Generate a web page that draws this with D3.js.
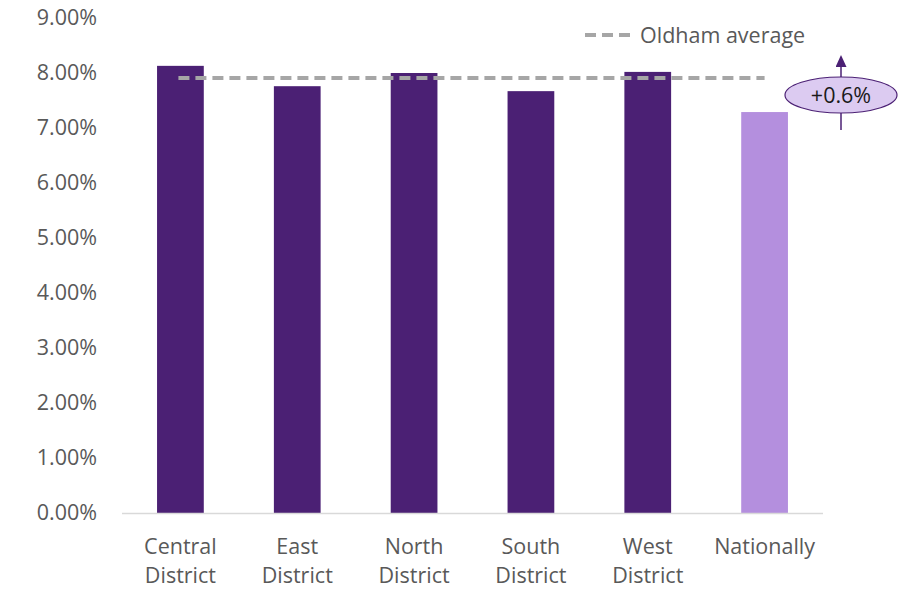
<!DOCTYPE html>
<html>
<head>
<meta charset="utf-8">
<script src="https://cdn.jsdelivr.net/npm/d3@7"></script>
<style>
  body { margin: 0; background: #fff; }
  text { font-family: "Open Sans", "Noto Sans", sans-serif; }
</style>
</head>
<body>
<div id="chart"></div>
<script>
// data
var districts = ["Central District", "East District", "North District", "South District", "West District", "Nationally"];
var rates = [8.13, 7.76, 8.0, 7.67, 8.02, 7.29];
var oldhamAverage = 7.91;
var yTicks = [0, 1, 2, 3, 4, 5, 6, 7, 8, 9];
var diffLabel = "+0.6%";

/* ****** Size ****** */
var width = 918, height = 590;
var margin = { top: 18, right: 95, bottom: 77, left: 122 };
var fontSize = "21.5px";

var svg = d3.select("#chart").append("svg")
    .attr("width", width)
    .attr("height", height);

var x = d3.scaleBand()
    .domain(districts)
    .range([margin.left, width - margin.right])
    .paddingInner(0.6)
    .paddingOuter(0.3);

var y = d3.scaleLinear()
    .domain([0, 9])
    .range([height - margin.bottom, margin.top]);

/* ****** Y axis labels ****** */
svg.append("g")
    .attr("transform", "translate(" + margin.left + ",0)")
    .call(d3.axisLeft(y).tickValues(yTicks).tickSize(0).tickPadding(25)
        .tickFormat(function (d) { return d.toFixed(2) + "%"; }))
    .call(function (g) { g.select(".domain").remove(); })
    .selectAll("text")
    .attr("fill", "#595959")
    .style("font-size", fontSize);

/* ****** Bars ****** */
svg.selectAll("rect.bar")
    .data(districts)
    .enter().append("rect")
    .attr("class", "bar")
    .attr("x", function (d) { return x(d); })
    .attr("width", x.bandwidth())
    .attr("y", function (d, i) { return y(rates[i]); })
    .attr("height", function (d, i) { return y(0) - y(rates[i]); })
    .attr("fill", function (d) { return d == "Nationally" ? "#b48fde" : "#4b2074"; });

/* ****** X axis ****** */
svg.append("line")
    .attr("x1", margin.left).attr("x2", width - margin.right)
    .attr("y1", y(0) + 0.5).attr("y2", y(0) + 0.5)
    .attr("stroke", "#d9d9d9").attr("stroke-width", 1.5);

var labels = svg.selectAll("text.xlab")
    .data(districts)
    .enter().append("text")
    .attr("class", "xlab")
    .attr("text-anchor", "middle")
    .attr("fill", "#595959")
    .style("font-size", fontSize)
    .attr("transform", function (d) { return "translate(" + (x(d) + x.bandwidth() / 2) + "," + (y(0) + 41) + ")"; });

labels.each(function (d) {
    var words = d.split(" ");
    var t = d3.select(this);
    words.forEach(function (w, i) {
        t.append("tspan").attr("x", 0).attr("dy", i == 0 ? 0 : 29).text(w);
    });
});

/* ****** Oldham average line ****** */
svg.append("line")
    .attr("x1", x(districts[0]) + x.bandwidth() / 2 - 2)
    .attr("x2", x("Nationally") + x.bandwidth() / 2)
    .attr("y1", y(oldhamAverage)).attr("y2", y(oldhamAverage))
    .attr("stroke", "#a6a6a6").attr("stroke-width", 4)
    .attr("stroke-dasharray", "11,6");

/* ****** Legend ****** */
svg.append("line")
    .attr("x1", 585).attr("x2", 632)
    .attr("y1", 35).attr("y2", 35)
    .attr("stroke", "#a6a6a6").attr("stroke-width", 4)
    .attr("stroke-dasharray", "11,6");

svg.append("text")
    .attr("x", 640).attr("y", 43)
    .attr("fill", "#595959")
    .style("font-size", fontSize)
    .text("Oldham average");

/* ****** Difference annotation ****** */
var ax = 841;
svg.append("defs").append("marker")
    .attr("id", "arrow")
    .attr("viewBox", "0 0 10 10")
    .attr("refX", 0).attr("refY", 5)
    .attr("markerWidth", 12).attr("markerHeight", 11)
    .attr("markerUnits", "userSpaceOnUse")
    .attr("orient", "auto")
    .attr("preserveAspectRatio", "none")
    .append("path")
    .attr("d", "M0,0 L10,5 L0,10 z")
    .attr("fill", "#4b2074");

svg.append("line")
    .attr("x1", ax).attr("x2", ax)
    .attr("y1", 130).attr("y2", 67)
    .attr("stroke", "#4b2074").attr("stroke-width", 1.5)
    .attr("marker-end", "url(#arrow)");

svg.append("ellipse")
    .attr("cx", ax).attr("cy", 95)
    .attr("rx", 56).attr("ry", 18)
    .attr("fill", "#dccbf1")
    .attr("stroke", "#4b2074").attr("stroke-width", 1.2);

svg.append("text")
    .attr("x", ax).attr("y", 103)
    .attr("text-anchor", "middle")
    .attr("fill", "#1a1a1a")
    .style("font-size", fontSize)
    .text(diffLabel);
</script>
</body>
</html>
